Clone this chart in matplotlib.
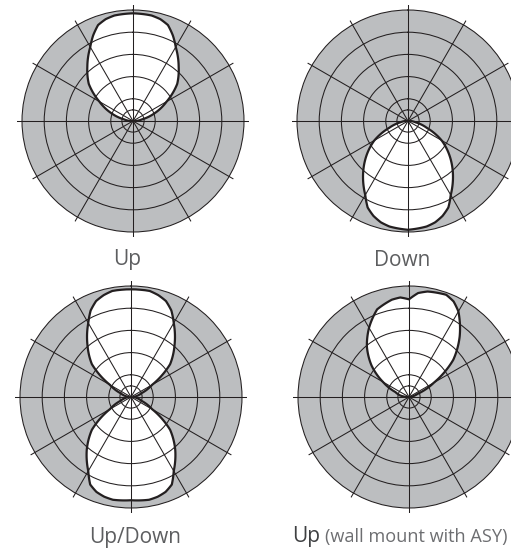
import numpy as np
import matplotlib
matplotlib.use("Agg")
import matplotlib.pyplot as plt
from matplotlib.path import Path
from matplotlib.patches import PathPatch

plt.rcParams['font.family'] = ['Open Sans', 'DejaVu Sans']

#Lobe readings: angle in degrees clockwise from the top, radius as a fraction of the outer ring
upAngles = [-90, -80, -70, -60, -50, -40, -30, -25, -20, -15, -10, 0, 10, 15, 20, 25, 30, 40, 50, 60, 70, 80, 90]
upRadii = [0.02, 0.08, 0.21, 0.35, 0.52, 0.64, 0.77, 0.85, 0.92, 0.95, 0.965, 0.97, 0.965, 0.95, 0.92, 0.85, 0.77, 0.64, 0.52, 0.35, 0.21, 0.08, 0.02]

downAngles = [90, 100, 110, 120, 130, 140, 150, 155, 160, 165, 170, 180, 190, 195, 200, 205, 210, 220, 230, 240, 250, 260, 270]
downRadii = [0.02, 0.07, 0.18, 0.35, 0.49, 0.63, 0.77, 0.86, 0.91, 0.945, 0.965, 0.98, 0.965, 0.945, 0.91, 0.86, 0.77, 0.63, 0.49, 0.35, 0.18, 0.07, 0.02]

upDownAngles = [-90, -80, -70, -60, -50, -40, -30, -25, -20, -15, -10, 0, 10, 15, 20, 25, 30, 40, 50, 60, 70, 80, 90,
                100, 110, 120, 130, 140, 150, 155, 160, 165, 170, 180, 190, 195, 200, 205, 210, 220, 230, 240, 250, 260, 270]
upDownRadii = [0.02, 0.05, 0.10, 0.22, 0.46, 0.61, 0.77, 0.86, 0.92, 0.95, 0.97, 0.97, 0.97, 0.95, 0.92, 0.86, 0.77, 0.61, 0.46, 0.22, 0.10, 0.05, 0.02,
               0.05, 0.10, 0.22, 0.46, 0.62, 0.77, 0.87, 0.91, 0.93, 0.94, 0.93, 0.94, 0.93, 0.91, 0.87, 0.77, 0.62, 0.46, 0.22, 0.10, 0.05, 0.02]

wallAngles = [-90, -80, -70, -60, -50, -40, -30, -20, -10, -5, 0, 5, 10, 20, 25, 30, 40, 50, 60, 70, 80, 90]
wallRadii = [0.01, 0.08, 0.13, 0.27, 0.44, 0.59, 0.72, 0.84, 0.89, 0.90, 0.88, 0.94, 0.965, 0.98, 0.95, 0.89, 0.71, 0.52, 0.26, 0.08, 0.03, 0.01]

ringRadii = [0.1, 0.2, 0.4, 0.6, 0.8, 1.0]
spokeAngles = [0, 30, 60, 90, 120, 150, 180, 210, 240, 270, 300, 330]

gray = '#bcbec0'
ink = '#231f20'
textGray = '#5d5e60'

W, H = 511, 553
R = 111          # outer ring radius in pixels
reach = 1.045    # spokes run a little past the outer ring


def DrawPolar(fig, cx, cy, angles, radii):
    half = R * reach
    ax = fig.add_axes([(cx - half) / W, (H - cy - half) / H, 2 * half / W, 2 * half / H], projection='polar')
    ax.set_theta_zero_location('N')
    ax.set_theta_direction(-1)
    ax.set_ylim(0, reach)
    ax.set_rticks(ringRadii)
    ax.set_thetagrids(spokeAngles)
    ax.set_xticklabels([])
    ax.set_yticklabels([])
    ax.tick_params(length=0)
    ax.grid(True, color=ink, linewidth=0.75)
    ax.spines['polar'].set_visible(False)
    ax.patch.set_alpha(0)

    #gray disc, then the white lobe on top of it
    full = np.linspace(0, 2 * np.pi, 361)
    ax.fill(full, np.ones_like(full), color=gray, zorder=0.5, lw=0)

    #the polar transform bends each segment along theta when the path asks for interpolation
    theta = np.deg2rad(angles)
    verts = np.column_stack([np.append(theta, theta[0]), np.append(radii, radii[0])])
    lobe = Path(verts, closed=True, _interpolation_steps=30)
    ax.add_patch(PathPatch(lobe, transform=ax.transData, facecolor='white', edgecolor='none', zorder=1))
    ax.add_patch(PathPatch(lobe, transform=ax.transData, facecolor='none', edgecolor=ink,
                           linewidth=1.6, joinstyle='round', zorder=3))
    return ax


fig = plt.figure(figsize=(W / 100, H / 100), dpi=100)

DrawPolar(fig, 133, 121, upAngles, upRadii)
DrawPolar(fig, 408, 121, downAngles, downRadii)
DrawPolar(fig, 131, 397, upDownAngles, upDownRadii)
DrawPolar(fig, 409, 397, wallAngles, wallRadii)

fig.text(127 / W, 1 - 265.5 / H, "Up", ha='center', va='baseline', fontsize=15, color=textGray)
fig.text(402 / W, 1 - 265.5 / H, "Down", ha='center', va='baseline', fontsize=15, color=textGray)
fig.text(135 / W, 1 - 543 / H, "Up/Down", ha='center', va='baseline', fontsize=15, color=textGray)
fig.text(292 / W, 1 - 542 / H, "Up", ha='left', va='baseline', fontsize=15, color='#3f4042')
fig.text(325 / W, 1 - 542 / H, "(wall mount with ASY)", ha='left', va='baseline', fontsize=13.1, color='#6d6e71')

fig.savefig("out.png", dpi=100)
